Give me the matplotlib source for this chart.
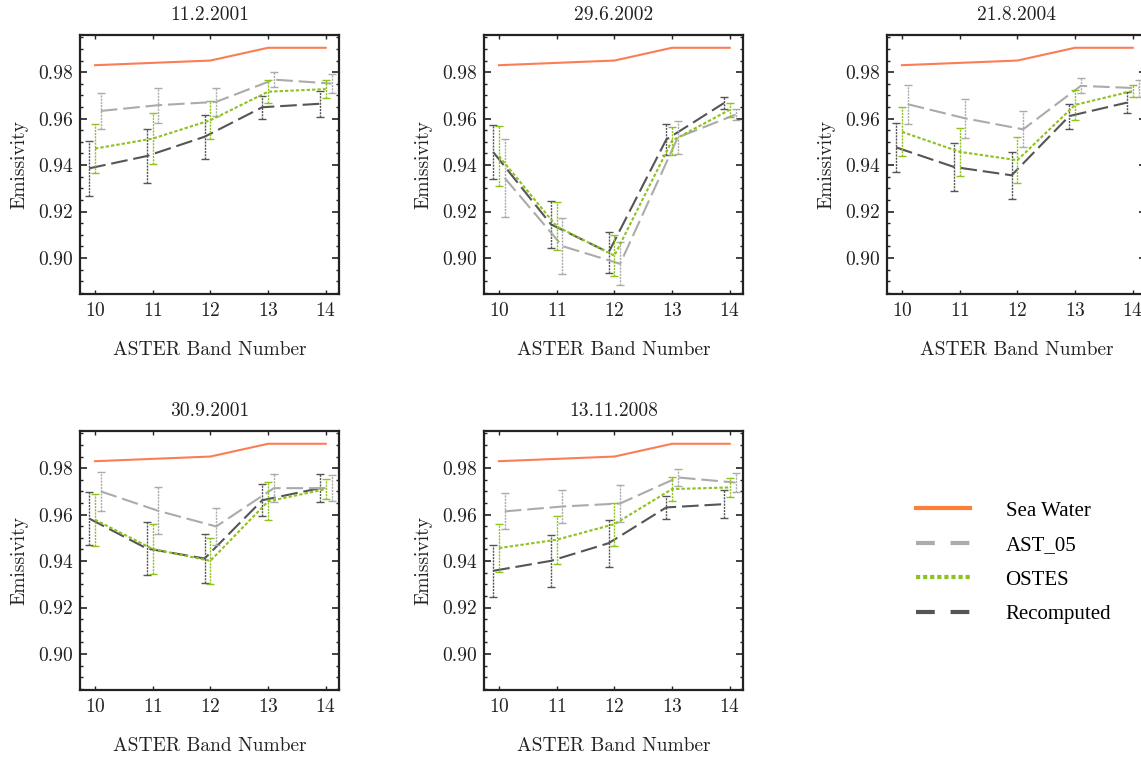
import numpy as np
import matplotlib
matplotlib.use("Agg")
import matplotlib.pyplot as plt
from matplotlib.lines import Line2D
from matplotlib.ticker import MultipleLocator, FormatStrFormatter

# ASTER TIR bands
bands = np.array([10, 11, 12, 13, 14])

# sea water reference emissivity (same in every panel)
sea_water = [0.983, 0.984, 0.985, 0.9905, 0.9905]

dates = ["11.2.2001", "29.6.2002", "21.8.2004", "30.9.2001", "13.11.2008"]

# AST_05 product: mean and error
ast05 = [
    [0.9633, 0.9658, 0.9672, 0.9768, 0.9751],
    [0.9344, 0.9051, 0.8975, 0.9519, 0.9617],
    [0.9662, 0.9601, 0.9554, 0.9741, 0.9731],
    [0.9700, 0.9616, 0.9549, 0.9714, 0.9714],
    [0.9614, 0.9635, 0.9648, 0.9760, 0.9738],
]
ast05_err = [
    [0.0076, 0.0075, 0.0060, 0.0034, 0.0040],
    [0.0168, 0.0121, 0.0093, 0.0072, 0.0025],
    [0.0083, 0.0084, 0.0077, 0.0032, 0.0036],
    [0.0083, 0.0101, 0.0080, 0.0060, 0.0057],
    [0.0077, 0.0072, 0.0080, 0.0036, 0.0042],
]

# OSTES
ostes = [
    [0.9471, 0.9514, 0.9593, 0.9716, 0.9727],
    [0.9438, 0.9136, 0.9010, 0.9505, 0.9638],
    [0.9543, 0.9457, 0.9421, 0.9659, 0.9719],
    [0.9578, 0.9452, 0.9401, 0.9657, 0.9710],
    [0.9456, 0.9492, 0.9559, 0.9710, 0.9717],
]
ostes_err = [
    [0.0107, 0.0110, 0.0081, 0.0049, 0.0040],
    [0.0129, 0.0103, 0.0089, 0.0061, 0.0030],
    [0.0105, 0.0103, 0.0100, 0.0066, 0.0027],
    [0.0111, 0.0108, 0.0100, 0.0082, 0.0043],
    [0.0104, 0.0103, 0.0092, 0.0050, 0.0039],
]

# recomputed
recomp = [
    [0.9386, 0.9439, 0.9522, 0.9649, 0.9664],
    [0.9456, 0.9145, 0.9024, 0.9510, 0.9667],
    [0.9476, 0.9392, 0.9356, 0.9611, 0.9669],
    [0.9583, 0.9454, 0.9411, 0.9662, 0.9714],
    [0.9358, 0.9401, 0.9477, 0.9631, 0.9645],
]
recomp_err = [
    [0.0118, 0.0118, 0.0094, 0.0050, 0.0056],
    [0.0116, 0.0101, 0.0087, 0.0065, 0.0025],
    [0.0105, 0.0104, 0.0100, 0.0054, 0.0044],
    [0.0113, 0.0114, 0.0105, 0.0070, 0.0059],
    [0.0113, 0.0111, 0.0102, 0.0050, 0.0059],
]

c_sea = "#fb7d55"
c_ast = "#ababab"
c_ost = "#8dc21f"
c_rec = "#555555"

plt.rcParams["font.family"] = ["cmr10", "DejaVu Serif"]
plt.rcParams["axes.formatter.use_mathtext"] = True

fig = plt.figure(figsize=(11.41, 7.57), dpi=100)
W, H = 1141.0, 757.0

# axes boxes in pixels: left, top
boxes = [(80, 35), (484, 35), (887, 35), (80, 431), (484, 431)]
aw, ah = 259, 259


def err_series(ax, x, y, e, color, dashes, z):
    ax.plot(x, y, color=color, lw=1.5, dashes=dashes, zorder=z)
    eb = ax.errorbar(x, y, yerr=e, fmt="none", ecolor=color, elinewidth=1.0,
                     capsize=2.6, capthick=1.0, zorder=z)
    for lc in eb[2]:
        lc.set_linestyle((0, (1.5, 0.8)))


for i, (l, t) in enumerate(boxes):
    ax = fig.add_axes([l / W, 1 - (t + ah) / H, aw / W, ah / H])
    ax.plot(bands, sea_water, color=c_sea, lw=1.5, zorder=5)
    err_series(ax, bands + 0.1, ast05[i], ast05_err[i], c_ast, (8, 2.8), 3)
    err_series(ax, bands, ostes[i], ostes_err[i], c_ost, (1.6, 1.0), 4)
    err_series(ax, bands - 0.1, recomp[i], recomp_err[i], c_rec, (8, 2.8), 2)

    ax.set_xlim(9.74, 14.23)
    ax.set_ylim(0.8845, 0.996)
    ax.set_xticks(bands)
    ax.yaxis.set_major_locator(MultipleLocator(0.02))
    ax.yaxis.set_minor_locator(MultipleLocator(0.005))
    ax.yaxis.set_major_formatter(FormatStrFormatter("%.2f"))
    ax.set_yticks([0.90, 0.92, 0.94, 0.96, 0.98])
    ax.tick_params(which="both", direction="in", top=True, right=True,
                   labelsize=14, colors="#222222", labelcolor="#222222")
    ax.tick_params(axis="y", which="major", length=5, width=1.2, pad=5)
    ax.tick_params(axis="y", which="minor", length=2.5, width=1.0)
    ax.tick_params(axis="x", which="major", length=3, width=1.0, pad=6)
    for s in ax.spines.values():
        s.set_linewidth(1.6)
        s.set_color("#222222")
    ax.set_title(dates[i], fontsize=14, pad=11, color="#222222")
    ax.set_xlabel("ASTER Band Number", fontsize=14, labelpad=15, color="#222222")
    ax.set_ylabel("Emissivity", fontsize=14, labelpad=7, color="#222222")

handles = [
    Line2D([], [], color="#ff7f3a", lw=3),
    Line2D([], [], color=c_ast, lw=3, dashes=(4.5, 3.8)),
    Line2D([], [], color=c_ost, lw=3, dashes=(1.0, 0.7)),
    Line2D([], [], color=c_rec, lw=3, dashes=(4.5, 3.8)),
]
labels = ["Sea Water", "AST_05", "OSTES", "Recomputed"]
fig.legend(handles, labels, loc="upper left", bbox_to_anchor=(916 / W, 1 - 501 / H),
           frameon=False, borderpad=0, borderaxespad=0, handlelength=2.6,
           handletextpad=1.7, labelspacing=0.72,
           prop={"family": "Liberation Serif", "size": 15})

fig.savefig("out.png", dpi=100)
